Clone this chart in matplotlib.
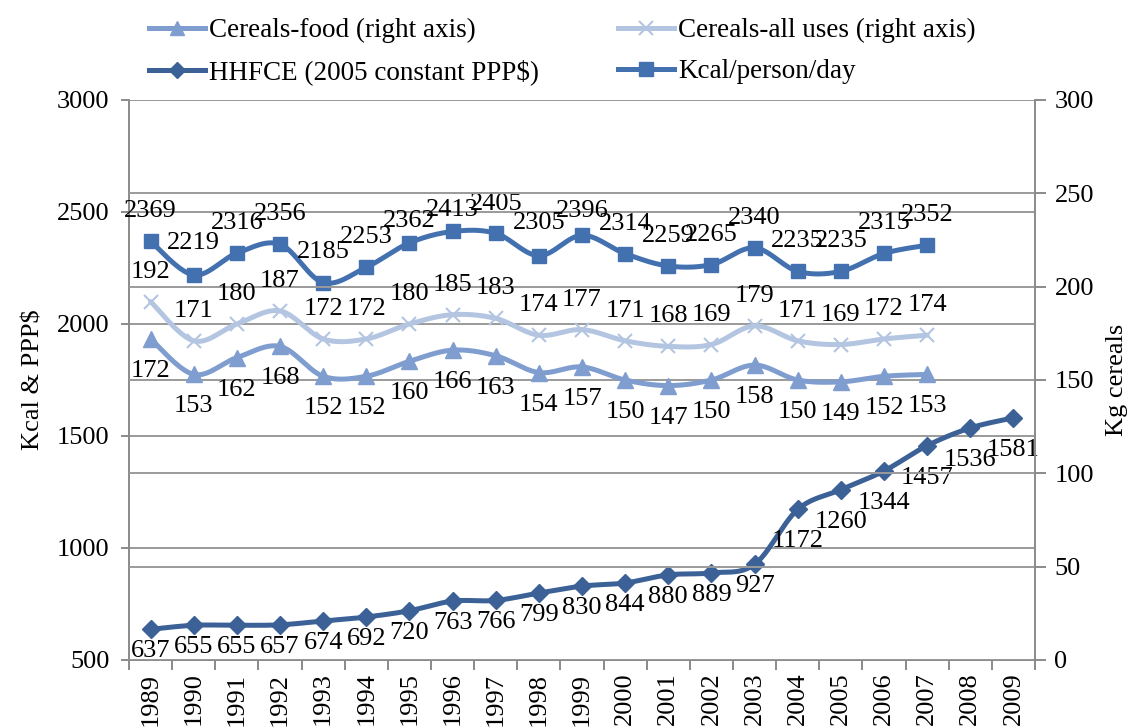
import numpy as np
import matplotlib
matplotlib.use("Agg")
import matplotlib.pyplot as plt
from matplotlib.lines import Line2D

plt.rcParams['font.family'] = ['Liberation Serif', 'DejaVu Serif']

years = [str(y) for y in range(1989, 2010)]
kcal = [2369, 2219, 2316, 2356, 2185, 2253, 2362, 2413, 2405, 2305, 2396,
        2314, 2259, 2265, 2340, 2235, 2235, 2315, 2352]
hhfce = [637, 655, 655, 657, 674, 692, 720, 763, 766, 799, 830, 844, 880,
         889, 927, 1172, 1260, 1344, 1457, 1536, 1581]
cereals_all = [192, 171, 180, 187, 172, 172, 180, 185, 183, 174, 177, 171,
               168, 169, 179, 171, 169, 172, 174]
cereals_food = [172, 153, 162, 168, 152, 152, 160, 166, 163, 154, 157, 150,
                147, 150, 158, 150, 149, 152, 153]

# label offsets (pixels, downward positive)
hhfce_label_dy = [22] * 15 + [32] * 6
kcal_label_dy = [30, 32, 30, 30, 31, 30, 22, 21, 29, 33, 24,
                 30, 30, 30, 30, 30, 30, 30, 30]

C_KCAL = '#4371B0'
C_HH = '#3B6197'
C_FOOD = '#7F9DCF'
C_ALL = '#B3C5E1'
GRID = '#9A9A9A'
AX = '#8A8A8A'
FS = 19


def smooth(y, n=30):
    """Catmull-Rom / Excel-like smoothing through points."""
    y = np.asarray(y, float)
    x = np.arange(len(y), dtype=float)
    P = np.column_stack([x, y])
    Pext = np.vstack([P[0], P, P[-1]])
    out = []
    t = np.linspace(0, 1, n)
    for i in range(len(P) - 1):
        p0, p1, p2, p3 = Pext[i], Pext[i + 1], Pext[i + 2], Pext[i + 3]
        c1 = p1 + (p2 - p0) / 6.0
        c2 = p2 - (p3 - p1) / 6.0
        seg = ((1 - t) ** 3)[:, None] * p1 + (3 * (1 - t) ** 2 * t)[:, None] * c1 \
            + (3 * (1 - t) * t ** 2)[:, None] * c2 + (t ** 3)[:, None] * p2
        out.append(seg if i == 0 else seg[1:])
    s = np.vstack(out)
    return s[:, 0], s[:, 1]


fig = plt.figure(figsize=(11.3, 7.27), dpi=100)
ax = fig.add_axes([129 / 1130, 1 - 660 / 727, (1035 - 129) / 1130, 560 / 727])
ax2 = ax.twinx()

ax.set_xlim(-0.5, len(years) - 0.5)
ax.set_ylim(500, 3000)
ax2.set_ylim(0, 300)

# gridlines for both axes
for v in range(500, 3001, 500):
    ax.axhline(v, color=GRID, lw=1.4, zorder=0)
for v in range(0, 301, 50):
    ax2.axhline(v, color=GRID, lw=1.4, zorder=0)

lw = 3.6
ms = 10.5

# left-axis series
xs, ys = smooth(kcal)
ax.plot(xs, ys, color=C_KCAL, lw=lw, solid_capstyle='round', zorder=3)
ax.plot(range(len(kcal)), kcal, ls='none', marker='s', ms=ms, color=C_KCAL, zorder=4)
xs, ys = smooth(hhfce)
ax.plot(xs, ys, color=C_HH, lw=lw, solid_capstyle='round', zorder=3)
ax.plot(range(len(hhfce)), hhfce, ls='none', marker='D', ms=ms * 0.85, color=C_HH, zorder=4)

# right-axis series
xs, ys = smooth(cereals_all)
ax2.plot(xs, ys, color=C_ALL, lw=lw, solid_capstyle='round', zorder=3)
ax2.plot(range(len(cereals_all)), cereals_all, ls='none', marker='x', ms=ms, mew=1.5,
         color=C_ALL, zorder=4)
xs, ys = smooth(cereals_food)
ax2.plot(xs, ys, color=C_FOOD, lw=lw, solid_capstyle='round', zorder=3)
ax2.plot(range(len(cereals_food)), cereals_food, ls='none', marker='^', ms=ms * 1.1,
         color=C_FOOD, zorder=4)

# data labels
for i, v in enumerate(kcal):
    ax.annotate(str(v), (i, v), xytext=(0, kcal_label_dy[i]), textcoords='offset pixels',
                ha='center', va='center', fontsize=FS, zorder=6)
for i, v in enumerate(hhfce):
    ax.annotate(str(v), (i, v), xytext=(0, -hhfce_label_dy[i]), textcoords='offset pixels',
                ha='center', va='center', fontsize=FS, zorder=6, annotation_clip=False)
for i, v in enumerate(cereals_all):
    ax2.annotate(str(v), (i, v), xytext=(0, 30), textcoords='offset pixels',
                 ha='center', va='center', fontsize=FS, zorder=6)
for i, v in enumerate(cereals_food):
    ax2.annotate(str(v), (i, v), xytext=(0, -32), textcoords='offset pixels',
                 ha='center', va='center', fontsize=FS, zorder=6)

# axes styling
for a in (ax, ax2):
    a.spines['top'].set_visible(False)
    for s in ('left', 'right', 'bottom'):
        a.spines[s].set_color(AX)
        a.spines[s].set_linewidth(1.4)
ax.spines['right'].set_visible(False)
ax2.spines['left'].set_visible(False)
ax2.spines['bottom'].set_visible(False)

ax.set_xticks(range(len(years)))
ax.set_xticklabels(years, rotation=90, fontsize=FS)
ax.set_xticks(np.arange(-0.5, len(years), 1.0), minor=True)
ax.tick_params(axis='x', which='major', length=0, pad=9)
ax.tick_params(axis='x', which='minor', length=7, width=1.4, color=AX, direction='out')

ax.set_yticks(range(500, 3001, 500))
ax.tick_params(axis='y', length=6, width=1.4, color=AX, labelsize=FS, pad=8)
ax2.set_yticks(range(0, 301, 50))
ax2.tick_params(axis='y', length=8, width=1.4, color=AX, labelsize=FS, pad=6)

ax.set_ylabel('Kcal & PPP$', fontsize=FS, labelpad=9)
ax2.set_ylabel('Kg cereals', fontsize=FS, labelpad=9)

# legend (column-major order so rows read: food, all / HHFCE, Kcal)
h_food = Line2D([], [], color=C_FOOD, lw=lw, marker='^', ms=ms * 1.0)
h_all = Line2D([], [], color=C_ALL, lw=lw, marker='x', ms=ms * 0.9, mew=1.5)
h_hh = Line2D([], [], color=C_HH, lw=lw, marker='D', ms=ms * 0.8)
h_kcal = Line2D([], [], color=C_KCAL, lw=lw, marker='s', ms=ms)
handles = [h_food, h_hh, h_all, h_kcal]
labels = ['Cereals-food (right axis)', 'HHFCE (2005 constant PPP$)',
          'Cereals-all uses (right axis)', 'Kcal/person/day']
fig.legend(handles, labels, ncol=2, loc='center', bbox_to_anchor=(0.4978, 0.929),
           frameon=False, fontsize=19.5, handlelength=2.07, handletextpad=0.15,
           columnspacing=2.9, labelspacing=0.6)

fig.savefig('out.png', dpi=100)
